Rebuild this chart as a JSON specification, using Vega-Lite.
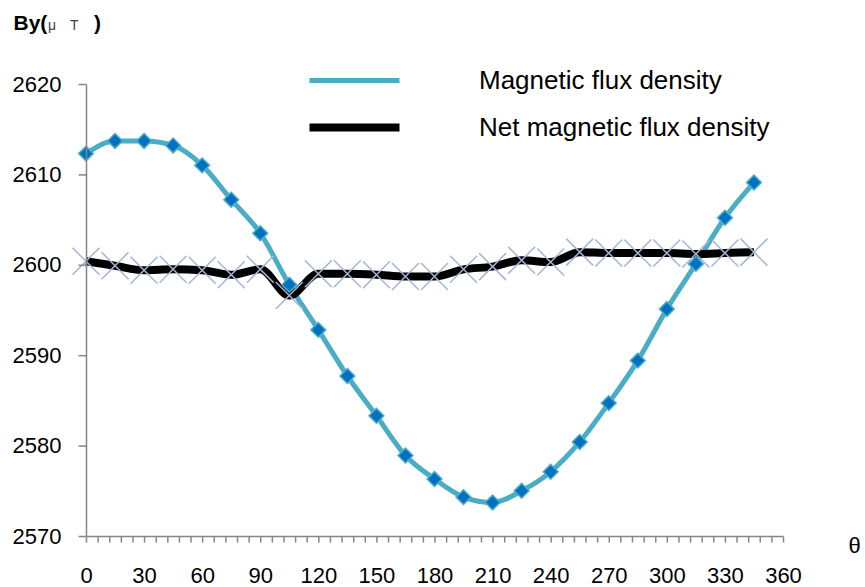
{
  "$schema": "https://vega.github.io/schema/vega-lite/v6.json",
  "width": 697,
  "height": 452,
  "autosize": "none",
  "padding": {"left": 86, "top": 84, "right": 82, "bottom": 51},
  "background": "white",
  "title": {"text": "μ\u2003T", "anchor": "start", "frame": "group", "fontSize": 14, "fontWeight": "normal", "color": "#404040", "font": "Liberation Sans", "baseline": "alphabetic", "dx": -38, "offset": -32},
  "config": {"view": {"stroke": null}},
  "data": {"values": [
    {"theta": 0, "series": "Magnetic flux density", "value": 2612.3},
    {"theta": 15, "series": "Magnetic flux density", "value": 2613.7},
    {"theta": 30, "series": "Magnetic flux density", "value": 2613.7},
    {"theta": 45, "series": "Magnetic flux density", "value": 2613.2},
    {"theta": 60, "series": "Magnetic flux density", "value": 2611.0},
    {"theta": 75, "series": "Magnetic flux density", "value": 2607.2},
    {"theta": 90, "series": "Magnetic flux density", "value": 2603.5},
    {"theta": 105, "series": "Magnetic flux density", "value": 2597.8},
    {"theta": 120, "series": "Magnetic flux density", "value": 2592.8},
    {"theta": 135, "series": "Magnetic flux density", "value": 2587.7},
    {"theta": 150, "series": "Magnetic flux density", "value": 2583.3},
    {"theta": 165, "series": "Magnetic flux density", "value": 2578.9},
    {"theta": 180, "series": "Magnetic flux density", "value": 2576.3},
    {"theta": 195, "series": "Magnetic flux density", "value": 2574.3},
    {"theta": 210, "series": "Magnetic flux density", "value": 2573.7},
    {"theta": 225, "series": "Magnetic flux density", "value": 2575.0},
    {"theta": 240, "series": "Magnetic flux density", "value": 2577.1},
    {"theta": 255, "series": "Magnetic flux density", "value": 2580.4},
    {"theta": 270, "series": "Magnetic flux density", "value": 2584.7},
    {"theta": 285, "series": "Magnetic flux density", "value": 2589.4},
    {"theta": 300, "series": "Magnetic flux density", "value": 2595.1},
    {"theta": 315, "series": "Magnetic flux density", "value": 2600.1},
    {"theta": 330, "series": "Magnetic flux density", "value": 2605.2},
    {"theta": 345, "series": "Magnetic flux density", "value": 2609.1},
    {"theta": 0, "series": "Net magnetic flux density", "value": 2600.4},
    {"theta": 15, "series": "Net magnetic flux density", "value": 2599.9},
    {"theta": 30, "series": "Net magnetic flux density", "value": 2599.4},
    {"theta": 45, "series": "Net magnetic flux density", "value": 2599.5},
    {"theta": 60, "series": "Net magnetic flux density", "value": 2599.4},
    {"theta": 75, "series": "Net magnetic flux density", "value": 2598.9},
    {"theta": 90, "series": "Net magnetic flux density", "value": 2599.5},
    {"theta": 105, "series": "Net magnetic flux density", "value": 2596.6},
    {"theta": 120, "series": "Net magnetic flux density", "value": 2599.0},
    {"theta": 135, "series": "Net magnetic flux density", "value": 2599.0},
    {"theta": 150, "series": "Net magnetic flux density", "value": 2598.9},
    {"theta": 165, "series": "Net magnetic flux density", "value": 2598.7},
    {"theta": 180, "series": "Net magnetic flux density", "value": 2598.7},
    {"theta": 195, "series": "Net magnetic flux density", "value": 2599.5},
    {"theta": 210, "series": "Net magnetic flux density", "value": 2599.8},
    {"theta": 225, "series": "Net magnetic flux density", "value": 2600.5},
    {"theta": 240, "series": "Net magnetic flux density", "value": 2600.3},
    {"theta": 255, "series": "Net magnetic flux density", "value": 2601.4},
    {"theta": 270, "series": "Net magnetic flux density", "value": 2601.3},
    {"theta": 285, "series": "Net magnetic flux density", "value": 2601.3},
    {"theta": 300, "series": "Net magnetic flux density", "value": 2601.3},
    {"theta": 315, "series": "Net magnetic flux density", "value": 2601.2},
    {"theta": 330, "series": "Net magnetic flux density", "value": 2601.3},
    {"theta": 345, "series": "Net magnetic flux density", "value": 2601.4}
  ]},
  "encoding": {
    "x": {"field": "theta", "type": "quantitative",
      "scale": {"domain": [0, 360], "nice": false, "zero": false},
      "axis": {
        "values": [0,6,12,18,24,30,36,42,48,54,60,66,72,78,84,90,96,102,108,114,120,126,132,138,144,150,156,162,168,174,180,186,192,198,204,210,216,222,228,234,240,246,252,258,264,270,276,282,288,294,300,306,312,318,324,330,336,342,348,354,360],
        "labelExpr": "datum.value % 30 === 0 ? datum.label : ''",
        "labelOverlap": false, "labelFlush": false,
        "ticks": true, "tickRound": false, "zindex": 1,
        "tickSize": 6, "tickWidth": 1.5,
        "labelPadding": 23,
        "domainColor": "#868686", "tickColor": "#868686", "domainWidth": 1.5,
        "grid": false,
        "labelFont": "Liberation Sans", "labelFontSize": 22, "labelColor": "#000000",
        "title": "θ", "titleX": 762, "titleY": 16, "titleAlign": "left", "titleBaseline": "alphabetic",
        "titleFontWeight": "normal", "titleFontSize": 22, "titleFont": "Liberation Sans", "titleColor": "#000000"
      }
    },
    "y": {"field": "value", "type": "quantitative",
      "scale": {"domain": [2570, 2620], "nice": false, "zero": false},
      "axis": {
        "values": [2570, 2580, 2590, 2600, 2610, 2620],
        "format": "d",
        "ticks": true, "tickRound": false, "zindex": 1,
        "tickSize": 8, "tickWidth": 1.5, "labelPadding": 17,
        "domainColor": "#868686", "tickColor": "#868686", "domainWidth": 1.5,
        "grid": false,
        "labelFont": "Liberation Sans", "labelFontSize": 22, "labelColor": "#000000",
        "title": "By(\u00a0\u00a0\u00a0\u00a0\u00a0\u00a0\u00a0\u00a0)", "titleAngle": 0, "titleX": -73, "titleY": -55, "titleAlign": "left", "titleBaseline": "alphabetic",
        "titleFontSize": 21, "titleFontWeight": "bold", "titleFont": "Liberation Sans", "titleColor": "#000000"
      }
    }
  },
  "layer": [
    {
      "mark": {"type": "line", "interpolate": "monotone"},
      "encoding": {
        "color": {"field": "series", "type": "nominal",
          "scale": {"domain": ["Magnetic flux density", "Net magnetic flux density"], "range": ["#4BACC6", "#000000"]},
          "legend": {
            "orient": "none", "legendX": 254.5, "legendY": -16.5, "title": null,
            "symbolType": "M-4.5,0L4.5,0", "symbolSize": 400, "symbolStrokeWidth": 5,
            "labelFont": "Liberation Sans", "labelFontSize": 26, "labelColor": "#000000",
            "labelOffset": 110.5, "rowPadding": 18, "padding": 0, "labelLimit": 0,
            "encode": {"symbols": {"update": {
              "stroke": {"signal": "datum.value === 'Magnetic flux density' ? '#00B0F0' : '#000000'"},
              "fill": {"value": "transparent"},
              "strokeWidth": {"value": 5}
            }}}
          }
        },
        "strokeWidth": {"field": "series", "type": "nominal",
          "scale": {"domain": ["Magnetic flux density", "Net magnetic flux density"], "range": [5, 8]},
          "legend": null}
      }
    },
    {
      "transform": [{"filter": "datum.series === 'Net magnetic flux density'"}],
      "mark": {"type": "point", "shape": "M-1,-1L1,1M-1,1L1,-1", "size": 729, "filled": false, "stroke": "#A5B5D6", "strokeWidth": 1.5, "opacity": 1}
    },
    {
      "transform": [{"filter": "datum.series === 'Magnetic flux density'"}],
      "mark": {"type": "point", "shape": "diamond", "size": 220, "filled": true, "fill": "#0070C0", "stroke": "#4BACC6", "strokeWidth": 1.5, "opacity": 1}
    }
  ]
}
